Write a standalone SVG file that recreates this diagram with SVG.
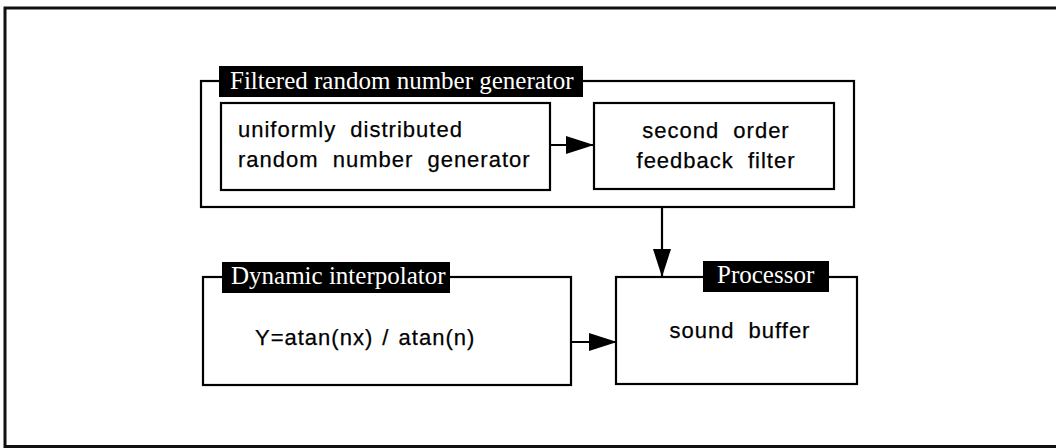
<svg xmlns="http://www.w3.org/2000/svg" width="1056" height="448" viewBox="0 0 1056 448">
  <defs>
    <style>
      .box { fill: none; stroke: #000; stroke-width: 2.2; }
      .frame { fill: none; stroke: #111; stroke-width: 3; }
      .lbg { fill: #000; }
      .lbl { font-family: "Liberation Serif", "Times New Roman", serif; font-size: 25px; fill: #fff; }
      .txt { font-family: "Liberation Sans", Arial, sans-serif; font-size: 22px; fill: #000; stroke: #000; stroke-width: 0.25; letter-spacing: 1px; word-spacing: 7px; }
      .con { fill: none; stroke: #000; stroke-width: 2.2; }
    </style>
    <marker id="arr" viewBox="0 0 28 18" refX="28" refY="9" markerWidth="28" markerHeight="18" markerUnits="userSpaceOnUse" orient="auto">
      <path d="M0,0 L28,9 L0,18 Z" fill="#000"/>
    </marker>
  </defs>
  <rect x="0" y="0" width="1056" height="448" fill="#fff"/>
  <path class="frame" d="M1056,8 H5 V446.5 H1056"/>

  <g id="filtered-group">
    <rect class="box" x="201" y="81" width="653" height="126"/>
    <rect class="lbg" x="219" y="66" width="364" height="31"/>
    <text class="lbl" x="230" y="89">Filtered random number generator</text>
  </g>

  <g id="uniform-generator">
    <rect class="box" x="221" y="103" width="329" height="87"/>
    <text class="txt" x="238" y="137">uniformly distributed</text>
    <text class="txt" x="238" y="167">random number generator</text>
  </g>

  <g id="feedback-filter">
    <rect class="box" x="594" y="103" width="240" height="86"/>
    <text class="txt" x="716" y="138" text-anchor="middle">second order</text>
    <text class="txt" x="716" y="168" text-anchor="middle">feedback filter</text>
  </g>

  <g id="dynamic-interpolator">
    <rect class="box" x="203" y="277" width="368" height="108"/>
    <rect class="lbg" x="222" y="262" width="228" height="31"/>
    <text class="lbl" x="231" y="284">Dynamic interpolator</text>
    <text class="txt" x="255" y="345" style="word-spacing:2px">Y=atan(nx) / atan(n)</text>
  </g>

  <g id="processor">
    <rect class="box" x="616" y="277" width="241" height="107"/>
    <rect class="lbg" x="703" y="261" width="126" height="31"/>
    <text class="lbl" x="717" y="283">Processor</text>
    <text class="txt" x="740" y="338" text-anchor="middle">sound buffer</text>
  </g>

  <g id="connectors">
    <line class="con" x1="550" y1="145" x2="594" y2="145" marker-end="url(#arr)"/>
    <line class="con" x1="662" y1="207" x2="662" y2="277" marker-end="url(#arr)"/>
    <line class="con" x1="571" y1="342" x2="617" y2="342" marker-end="url(#arr)"/>
  </g>
</svg>
